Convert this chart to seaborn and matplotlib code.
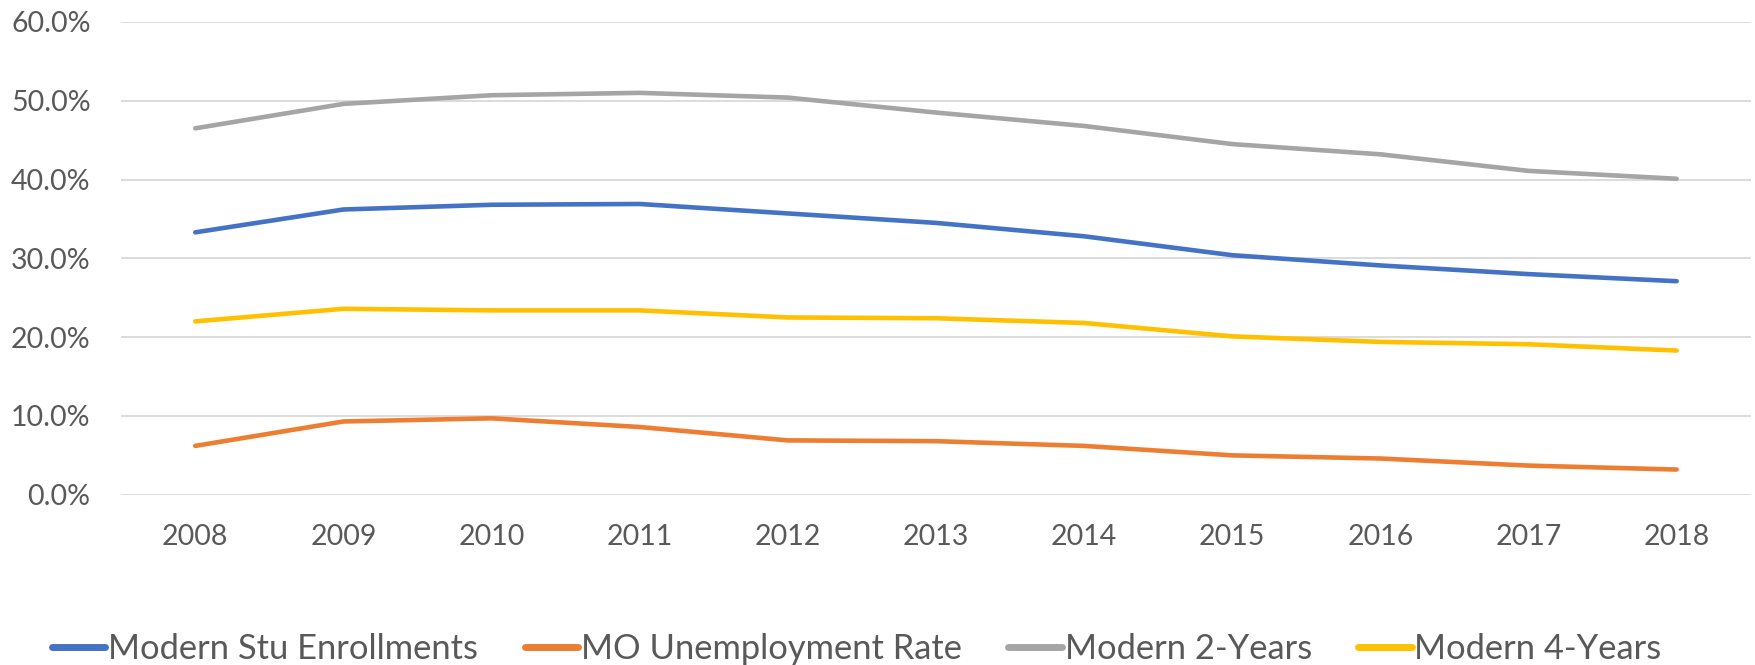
import matplotlib
matplotlib.use("Agg")
import matplotlib.pyplot as plt
from matplotlib.ticker import PercentFormatter
import seaborn as sns
import pandas as pd

years = ["2008", "2009", "2010", "2011", "2012", "2013", "2014", "2015", "2016", "2017", "2018"]
series_names = ["Modern Stu Enrollments", "MO Unemployment Rate", "Modern 2-Years", "Modern 4-Years"]
stu_enrollments = [33.3, 36.2, 36.8, 36.9, 35.7, 34.5, 32.8, 30.4, 29.1, 28.0, 27.1]
mo_unemployment = [6.2, 9.3, 9.7, 8.6, 6.9, 6.8, 6.2, 5.0, 4.6, 3.7, 3.2]
modern_2_years = [46.5, 49.6, 50.7, 51.0, 50.4, 48.5, 46.8, 44.5, 43.2, 41.1, 40.1]
modern_4_years = [22.0, 23.6, 23.4, 23.4, 22.5, 22.4, 21.8, 20.1, 19.4, 19.1, 18.3]
colors = ["#4472C4", "#ED7D31", "#A5A5A5", "#FFC000"]

values = [stu_enrollments, mo_unemployment, modern_2_years, modern_4_years]
frames = []
for name, vals in zip(series_names, values):
    frames.append(pd.DataFrame({"year": list(range(len(years))), "value": vals, "series": name}))
df = pd.concat(frames, ignore_index=True)

sns.set_theme(style="white")
plt.rcParams["font.family"] = ["Lato", "DejaVu Sans"]

fig = plt.figure(figsize=(17.56, 6.65), dpi=100)
ax = fig.add_axes([0.069, 0.256, 0.928, 0.711])

sns.lineplot(data=df, x="year", y="value", hue="series", hue_order=series_names,
             palette=colors, linewidth=3.3, ax=ax, legend=False,
             solid_capstyle="round")

ax.set_xlim(-0.5, len(years) - 0.5)
ax.set_ylim(0, 60)
ax.set_yticks(range(0, 61, 10))
ax.yaxis.set_major_formatter(PercentFormatter(decimals=1))
ax.set_xticks(range(len(years)))
ax.set_xticklabels(years)
ax.grid(axis="y", color="#D9D9D9", linewidth=1.3)
ax.set_axisbelow(True)
for s in ax.spines.values():
    s.set_visible(False)
ax.tick_params(axis="both", length=0, labelsize=20.5, labelcolor="#595959")
ax.tick_params(axis="y", pad=22)
ax.tick_params(axis="x", pad=21)
ax.set_xlabel("")
ax.set_ylabel("")

handles = [plt.Line2D([0], [0], color=c, linewidth=5, solid_capstyle="round") for c in colors]
fig.legend(handles, series_names, loc="center left", bbox_to_anchor=(0.012, 0.024),
           ncol=4, frameon=False, fontsize=24.8, handlelength=1.55, handletextpad=0.08,
           columnspacing=1.35, labelcolor="#595959")

fig.savefig("out.png", dpi=100, facecolor="white")
